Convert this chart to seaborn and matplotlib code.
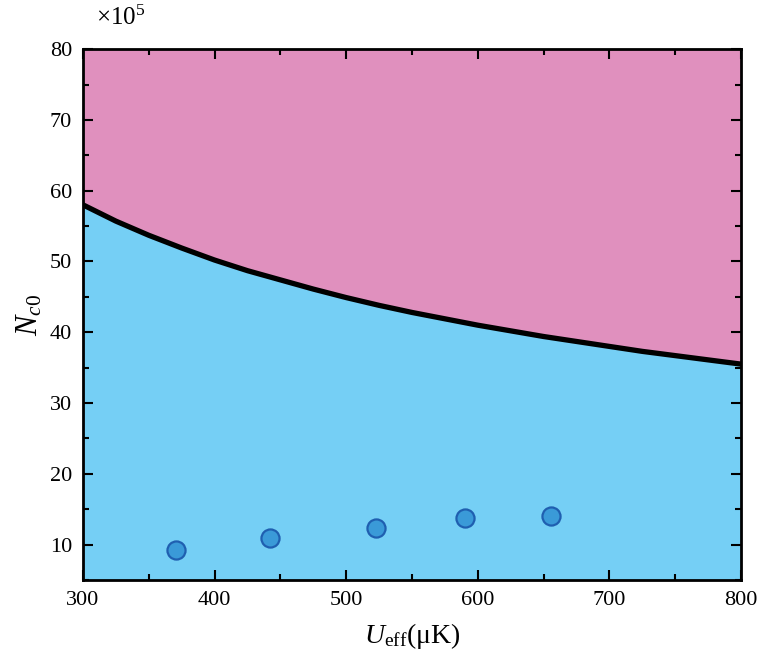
import numpy as np
import pandas as pd
import matplotlib.pyplot as plt
import seaborn as sns
from matplotlib.ticker import MultipleLocator

sns.set_style('ticks')
plt.rcParams['font.family'] = ['Liberation Serif', 'DejaVu Serif']
plt.rcParams['mathtext.fontset'] = 'custom'
plt.rcParams['mathtext.rm'] = 'Liberation Serif'
plt.rcParams['mathtext.it'] = 'Liberation Serif:italic'
plt.rcParams['text.color'] = 'black'
plt.rcParams['axes.labelcolor'] = 'black'

# threshold curve (units of 1e5)
curve_u = [300, 325, 350, 375, 400, 425, 450, 475, 500, 525, 550,
           575, 600, 625, 650, 675, 700, 725, 750, 775, 800]
curve_n = [58.0, 55.7, 53.7, 51.9, 50.2, 48.7, 47.4, 46.1, 44.9, 43.8, 42.8,
           41.9, 41.0, 40.2, 39.4, 38.7, 38.0, 37.3, 36.7, 36.1, 35.5]

# measured points
meas_u = [371, 442, 523, 590, 656]
meas_n = [9.2, 10.9, 12.3, 13.7, 14.1]

curve_df = pd.DataFrame({'U': curve_u, 'N': curve_n})
meas_df = pd.DataFrame({'U': meas_u, 'N': meas_n})

fig = plt.figure(figsize=(7.6, 6.55), dpi=100)
ax = fig.add_axes([0.1092, 0.1145, 0.8658, 0.8105])
ax.set_axisbelow(False)

ymin, ymax = 5, 80
ax.fill_between(curve_u, curve_n, ymax, color='#e090be', lw=0)
ax.fill_between(curve_u, ymin, curve_n, color='#75cff5', lw=0)

sns.lineplot(data=curve_df, x='U', y='N', ax=ax, color='black', lw=3.8,
             solid_capstyle='round', solid_joinstyle='round')
sns.scatterplot(data=meas_df, x='U', y='N', ax=ax, s=170, color='#3a9ad8',
                edgecolor='#1f5fb0', linewidth=1.6, zorder=5)

ax.set_xlim(300, 800)
ax.set_ylim(ymin, ymax)
ax.xaxis.set_major_locator(MultipleLocator(100))
ax.xaxis.set_minor_locator(MultipleLocator(50))
ax.set_yticks(range(10, 81, 10))
ax.yaxis.set_minor_locator(MultipleLocator(5))
ax.tick_params(which='both', direction='in', top=True, right=True,
               width=1.5, color='black', labelcolor='black', labelsize=16,
               pad=8)
ax.tick_params(which='major', length=7)
ax.tick_params(which='minor', length=4)
for s in ax.spines.values():
    s.set_linewidth(2)
    s.set_color('black')

ax.set_xlabel(r'$U_{\rm eff}$(μK)', fontsize=20, labelpad=8)
ax.set_ylabel(r'$N_{\mathit{c0}}$', fontsize=22, labelpad=4)
ax.text(0.02, 1.036, r'×10$^5$', transform=ax.transAxes,
        fontsize=18, ha='left', va='bottom')

fig.savefig('out.png', dpi=100)
